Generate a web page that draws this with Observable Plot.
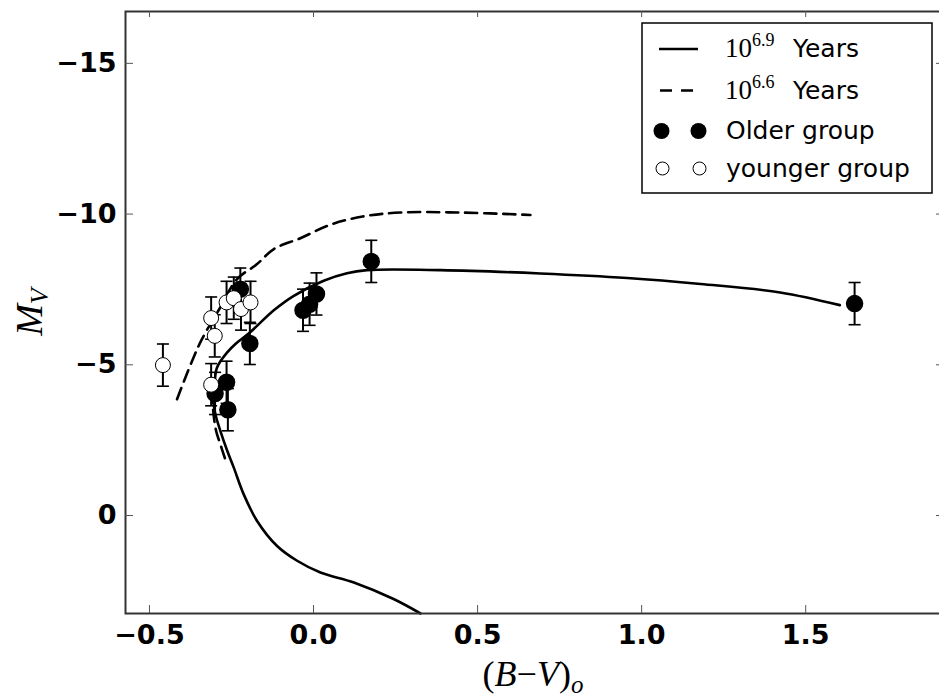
<!DOCTYPE html>
<html>
<head>
<meta charset="utf-8">
<script src="https://cdn.jsdelivr.net/npm/d3@7"></script>
<script src="https://cdn.jsdelivr.net/npm/@observablehq/plot@0.6"></script>
<style>
  html, body { margin: 0; padding: 0; background: #fff; overflow: hidden; }
  #chart svg { display: block; overflow: hidden; }
</style>
</head>
<body>
<div id="chart"></div>
<script>
// Colour-magnitude diagram: intrinsic colour (B-V)o against absolute magnitude Mv.

// Older group (filled circles)
const olderBV  = [-0.300, -0.265, -0.261, -0.223, -0.194, -0.032, -0.012, 0.009, 0.176, 1.649];
const olderMV  = [-4.05, -4.42, -3.51, -7.51, -5.71, -6.81, -7.01, -7.35, -8.43, -7.03];
const olderErr = [0.7, 0.7, 0.7, 0.7, 0.7, 0.7, 0.7, 0.7, 0.7, 0.7];

// Younger group (open circles)
const youngerBV  = [-0.459, -0.312, -0.301, -0.312, -0.265, -0.243, -0.221, -0.192];
const youngerMV  = [-4.99, -4.34, -5.96, -6.55, -7.07, -7.21, -6.85, -7.07];
const youngerErr = [0.7, 0.7, 0.7, 0.7, 0.7, 0.7, 0.7, 0.7];

// Isochrone 10^6.9 yr (solid)
const iso69BV = [0.326, 0.244, 0.123, 0.021, -0.050, -0.111, -0.172, -0.213, -0.243, -0.263, -0.284, -0.299, -0.304,
                 -0.302, -0.294, -0.263, -0.238, -0.194, -0.121, -0.060, 0.031, 0.102, 0.163, 0.387, 0.691, 0.956, 1.180, 1.422, 1.604];
const iso69MV = [3.25, 2.77, 2.22, 1.89, 1.50, 1.01, 0.18, -0.71, -1.59, -2.15, -2.81, -3.36, -3.70,
                 -4.30, -4.91, -5.41, -5.69, -6.07, -6.81, -7.29, -7.79, -8.04, -8.14, -8.14, -8.03, -7.88, -7.68, -7.40, -6.98];

// Isochrone 10^6.6 yr (dashed): main-sequence stretch and upper branch
const iso66msBV = [-0.270, -0.285, -0.297, -0.306, -0.310];
const iso66msMV = [-1.90, -2.40, -2.81, -3.50, -4.10];
const iso66BV = [-0.416, -0.370, -0.340, -0.287, -0.233, -0.172, -0.121, -0.040, 0.052, 0.150, 0.265, 0.450, 0.661];
const iso66MV = [-3.86, -5.13, -5.85, -6.85, -7.84, -8.34, -8.84, -9.20, -9.65, -9.92, -10.05, -10.05, -9.97];

// Axis ticks
const xTicks = [-0.5, 0.0, 0.5, 1.0, 1.5];
const yTicks = [-15, -10, -5, 0];

// Legend text
const legendExponents = ["6.9", "6.6"];
const legendLabels = ["Years", "Years", "Older group", "younger group"];

const older = olderBV.map((x, i) => ({x, y: olderMV[i], e: olderErr[i]}));
const younger = youngerBV.map((x, i) => ({x, y: youngerMV[i], e: youngerErr[i]}));
const iso69 = iso69BV.map((x, i) => ({x, y: iso69MV[i]}));
const iso66ms = iso66msBV.map((x, i) => ({x, y: iso66msMV[i]}));
const iso66 = iso66BV.map((x, i) => ({x, y: iso66MV[i]}));

const W = 939, H = 698;
const M = {left: 125, right: -5, top: 11, bottom: 85};
const plotW = W - M.left - M.right;
const plotH = H - M.top - M.bottom;

// horizontal cap for error bars
const capSymbol = {
  draw(context, size) {
    const r = Math.sqrt(size / Math.PI);
    context.moveTo(-r, 0);
    context.lineTo(r, 0);
  }
};

const minus = (s) => s.replace("-", "\u2212");
const font = "DejaVu Sans";

const errorMarks = (data) => [
  Plot.ruleX(data, {x: "x", y1: d => d.y - d.e, y2: d => d.y + d.e, stroke: "black", strokeWidth: 2}),
  Plot.dot(data, {x: "x", y: d => d.y - d.e, symbol: capSymbol, r: 6, stroke: "black", strokeWidth: 1.6, fill: "none"}),
  Plot.dot(data, {x: "x", y: d => d.y + d.e, symbol: capSymbol, r: 6, stroke: "black", strokeWidth: 1.6, fill: "none"})
];

const chart = Plot.plot({
  width: W,
  height: H,
  marginLeft: M.left,
  marginRight: M.right,
  marginTop: M.top,
  marginBottom: M.bottom,
  style: {background: "white", fontFamily: font},
  x: {domain: [-0.573, 1.923]},
  y: {domain: [3.25, -16.72]},
  marks: [
    Plot.line(iso69, {x: "x", y: "y", curve: "catmull-rom", stroke: "black", strokeWidth: 2.6}),
    Plot.line(iso66ms, {x: "x", y: "y", curve: "catmull-rom", stroke: "black", strokeWidth: 2.6, strokeDasharray: "12,7"}),
    Plot.line(iso66, {x: "x", y: "y", curve: "catmull-rom", stroke: "black", strokeWidth: 2.6, strokeDasharray: "12,7"}),
    ...errorMarks(older),
    ...errorMarks(younger),
    Plot.dot(older, {x: "x", y: "y", r: 8, fill: "black", stroke: "black"}),
    Plot.dot(younger, {x: "x", y: "y", r: 7.5, fill: "white", stroke: "black", strokeWidth: 1}),
    Plot.frame({stroke: "#333", strokeWidth: 2}),
    // inward ticks on all four sides
    Plot.tickX(xTicks, {x: d => d, insetTop: plotH - 8, stroke: "#555", strokeWidth: 1}),
    Plot.tickX(xTicks, {x: d => d, insetBottom: plotH - 6, stroke: "#555", strokeWidth: 1}),
    Plot.tickY(yTicks, {y: d => d, insetRight: plotW - 8, stroke: "#555", strokeWidth: 1}),
    Plot.tickY(yTicks, {y: d => d, insetLeft: plotW - 8, stroke: "#555", strokeWidth: 1}),
    Plot.axisX(xTicks, {anchor: "bottom", tickSize: 0, tickPadding: 11, label: null,
      tickFormat: d => minus(d.toFixed(1)), fontSize: 27, fontWeight: "bold", fontFamily: font, fill: "black"}),
    Plot.axisY(yTicks, {anchor: "left", tickSize: 0, tickPadding: 9, label: null,
      tickFormat: d => minus(String(d)), fontSize: 27, fontWeight: "bold", fontFamily: font, fill: "black"})
  ]
});

document.getElementById("chart").append(chart);

const svg = d3.select(chart);
const serif = "Liberation Serif";

// x label: (B−V)o
const xl = svg.append("text")
  .attr("x", 533).attr("y", 686)
  .attr("text-anchor", "middle")
  .attr("font-family", serif).attr("font-size", 36).attr("fill", "black");
xl.append("tspan").text("(");
xl.append("tspan").attr("font-style", "italic").text("B");
xl.append("tspan").text("\u2212");
xl.append("tspan").attr("font-style", "italic").text("V");
xl.append("tspan").text(")");
xl.append("tspan").attr("font-style", "italic").attr("font-size", 25).attr("dy", 7).text("o");

// y label: Mv
const yl = svg.append("text")
  .attr("transform", "translate(42,312) rotate(-90)")
  .attr("text-anchor", "middle")
  .attr("font-family", serif).attr("font-size", 38).attr("fill", "black");
yl.append("tspan").attr("font-style", "italic").text("M");
yl.append("tspan").attr("font-style", "italic").attr("font-size", 26).attr("dy", 6).text("V");

// legend
const lg = svg.append("g").attr("text-anchor", "start");
lg.append("rect").attr("x", 642).attr("y", 23).attr("width", 290).attr("height", 170)
  .attr("fill", "white").attr("stroke", "black").attr("stroke-width", 1.5);

const rowY = [49, 90.5, 131, 168.5];
lg.append("line").attr("x1", 659).attr("x2", 698).attr("y1", rowY[0]).attr("y2", rowY[0])
  .attr("stroke", "black").attr("stroke-width", 2.6);
lg.append("line").attr("x1", 660).attr("x2", 698).attr("y1", rowY[1]).attr("y2", rowY[1])
  .attr("stroke", "black").attr("stroke-width", 2.6).attr("stroke-dasharray", "12,9");
[661.5, 698.5].forEach(cx => {
  lg.append("circle").attr("cx", cx).attr("cy", rowY[2]).attr("r", 8).attr("fill", "black");
  lg.append("circle").attr("cx", cx + 1).attr("cy", rowY[3]).attr("r", 6.5)
    .attr("fill", "white").attr("stroke", "black").attr("stroke-width", 1);
});

legendExponents.forEach((ex, i) => {
  const t = lg.append("text").attr("x", 725).attr("y", rowY[i] + 8).attr("text-anchor", "start")
    .attr("font-family", serif).attr("font-size", 27).attr("fill", "black");
  t.append("tspan").text("10");
  t.append("tspan").attr("font-size", 18).attr("dy", -11).text(ex);
  lg.append("text").attr("x", 793).attr("y", rowY[i] + 8).attr("text-anchor", "start")
    .attr("font-family", font).attr("font-size", 25).attr("fill", "black").text(legendLabels[i]);
});
[2, 3].forEach(i => {
  lg.append("text").attr("x", 726).attr("y", rowY[i] + 8).attr("text-anchor", "start")
    .attr("font-family", font).attr("font-size", 25).attr("fill", "black").text(legendLabels[i]);
});
</script>
</body>
</html>
